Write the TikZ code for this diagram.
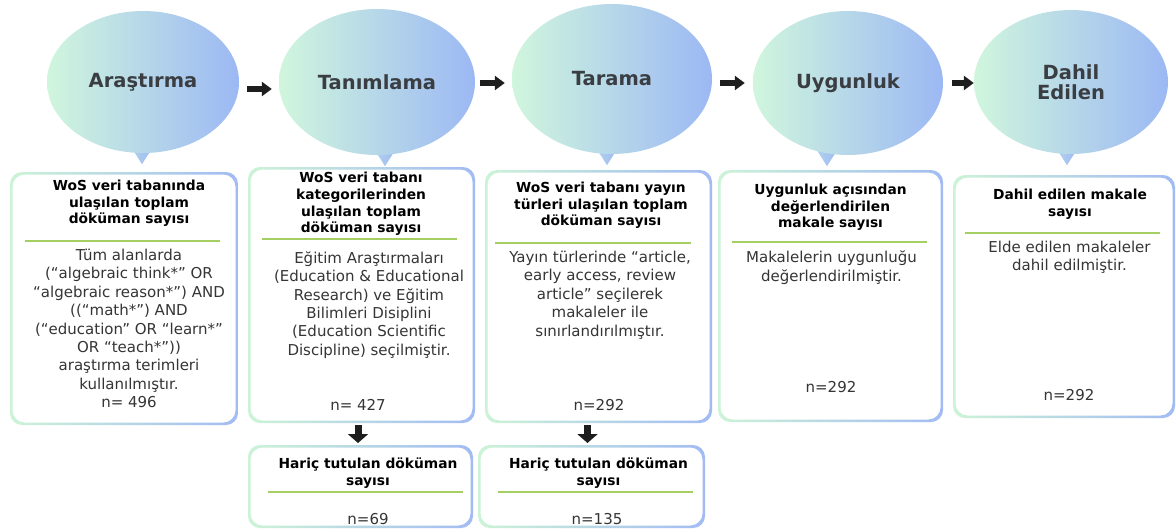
\documentclass[tikz,border=0pt]{standalone}
\usepackage{fontspec}
\setmainfont{DejaVu Sans}
\usepackage{tikz}
\usetikzlibrary{positioning,shapes.geometric,arrows.meta,backgrounds}

\definecolor{bubL}{HTML}{D0F6DD}
\definecolor{bubR}{HTML}{9CB8F4}
\definecolor{frmL}{HTML}{CDF3D7}
\definecolor{frmR}{HTML}{A2BBF3}
\definecolor{sepG}{HTML}{A6CF63}
\definecolor{ink}{HTML}{1E1E1E}
\definecolor{bubtxt}{HTML}{3A3E42}

% frame with a green-to-blue border
\newcommand\gradframe[1]{%
\shade[left color=frmL, right color=frmR, even odd rule, rounded corners=12pt]
  (#1.south west) rectangle (#1.north east)
  ([shift={(2.5pt,2.5pt)}]#1.south west) rectangle ([shift={(-2.5pt,-2.5pt)}]#1.north east);
}
% little tip under a bubble
\newcommand\pointer[2]{%
\shade[left color=bubL!45!bubR, right color=bubR]
  ([xshift={#2pt-12pt},yshift=8pt]#1.south) -- ([xshift={#2pt+12pt},yshift=8pt]#1.south)
  -- ([xshift={#2pt},yshift=-11pt]#1.south) -- cycle;
}

\begin{document}
\begin{tikzpicture}[x=1pt,y=-1pt,
  bubble/.style={ellipse, left color=bubL, right color=bubR, text=bubtxt, align=center,
    inner sep=0pt, font={\fontsize{19.5}{19.5}\selectfont\bfseries}},
  boxnode/.style={rectangle, inner sep=0pt, outer sep=0pt},
  ttl/.style={inner sep=0pt, align=center, text=black, font={\fontsize{13.8}{16.6}\selectfont\bfseries}},
  txt/.style={inner sep=0pt, align=center, text=ink!90, font={\fontsize{15}{18.4}\selectfont}},
  sepline/.style={sepG, line width=2pt},
  harrow/.style={-{Triangle[length=10pt,width=14pt]}, line width=6pt, ink},
  varrow/.style={-{Triangle[length=9pt,width=20pt]}, line width=7pt, ink}]

	\useasboundingbox (0,0) rectangle (1176,531);

	%% bubbles
	\node[bubble, minimum width=192, minimum height=142] (b1) at (143,82) {Araştırma};
	\node[bubble, minimum width=196, minimum height=146] (b2) at (377,82) {Tanımlama};
	\node[bubble, minimum width=200, minimum height=150] (b3) at (612,79) {Tarama};
	\node[bubble, minimum width=190, minimum height=144] (b4) at (848,83) {Uygunluk};
	\node[bubble, minimum width=194, minimum height=144] (b5) at (1071,82) {Dahil\\Edilen};

	\begin{scope}[on background layer]
	\fill[white] (0,0) rectangle (1176,531);
	\pointer{b1}{-1}
	\pointer{b2}{8}
	\pointer{b3}{-5}
	\pointer{b4}{-21}
	\pointer{b5}{-4}
	\end{scope}

	\coordinate (a1) at ([yshift=-7pt]b1.east);
	\coordinate (a2) at ([yshift=-1pt]b2.east);
	\coordinate (a3) at ([yshift=-4pt]b3.east);
	\coordinate (a4) at (b4.east);
	\draw[harrow, shorten <=8pt, shorten >=7pt] (a1) -- (a1 -| b2.west);
	\draw[harrow, shorten <=5pt, shorten >=7pt] (a2) -- (a2 -| b3.west);
	\draw[harrow, shorten <=8pt, shorten >=8pt] (a3) -- (a3 -| b4.west);
	\draw[harrow, shorten <=9pt] (a4) -- (a4 -| b5.west);

	%% boxes
	\node[boxnode, minimum width=228, minimum height=253] (k1) at (124,298.5) {};
	\node[boxnode, minimum width=227, minimum height=256] (k2) at (361.5,295) {};
	\node[boxnode, minimum width=227, minimum height=253] (k3) at (598.5,296.5) {};
	\node[boxnode, minimum width=225, minimum height=252] (k4) at (830.5,296) {};
	\node[boxnode, minimum width=222, minimum height=243] (k5) at (1064,296.5) {};
	\node[boxnode, minimum width=225, minimum height=83] (h1) at (360.5,486.5) {};
	\node[boxnode, minimum width=227, minimum height=83] (h2) at (591.5,486.5) {};
	\gradframe{k1}
	\gradframe{k2}
	\gradframe{k3}
	\gradframe{k4}
	\gradframe{k5}
	\gradframe{h1}
	\gradframe{h2}

	% box 1
	\node[ttl] (t1) at (129,203.5) {WoS veri tabanında\\ulaşılan toplam\\döküman sayısı};
	\draw[sepline] (25,241) -- (220,241);
	\node[txt] (p1) at (129,328.5) {Tüm alanlarda\\(“algebraic think*” OR\\“algebraic reason*”) AND\\((“math*”) AND\\(“education” OR “learn*”\\OR “teach*”))\\araştırma terimleri\\kullanılmıştır.\\n= 496};

	% box 2
	\node[ttl] (t2) at (361,204) {WoS veri tabanı\\kategorilerinden\\ulaşılan toplam\\döküman sayısı};
	\draw[sepline] (262,239) -- (457,239);
	\node[txt] (p2) at (369,305) {Eğitim Araştırmaları\\(Education \& Educational\\Research) ve Eğitim\\Bilimleri Disiplini\\(Education Scientific\\Discipline) seçilmiştir.};
	\node[txt] (n2) at (358,405) {n= 427};

	% box 3
	\node[ttl] (t3) at (601,205.5) {WoS veri tabanı yayın\\türleri ulaşılan toplam\\döküman sayısı};
	\draw[sepline] (495,243) -- (691,243);
	\node[txt] (p3) at (600,295) {Yayın türlerinde “article,\\early access, review\\article” seçilerek\\makaleler ile\\sınırlandırılmıştır.};
	\node[txt] (n3) at (599,405) {n=292};

	% box 4
	\node[ttl] (t4) at (830.5,207.5) {Uygunluk açısından\\değerlendirilen\\makale sayısı};
	\draw[sepline] (732,242) -- (927,242);
	\node[txt] (p4) at (831.5,267.5) {Makalelerin uygunluğu\\değerlendirilmiştir.};
	\node[txt] (n4) at (831,387) {n=292};

	% box 5
	\node[ttl] (t5) at (1070,204) {Dahil edilen makale\\sayısı};
	\draw[sepline] (965,233) -- (1160,233);
	\node[txt] (p5) at (1069.5,257.5) {Elde edilen makaleler\\dahil edilmiştir.};
	\node[txt] (n5) at (1069,395) {n=292};

	%% excluded
	\coordinate (d1) at ([xshift=-2.5pt]h1.north);
	\coordinate (d2) at ([xshift=-4pt]h2.north);
	\draw[varrow, shorten <=2pt, shorten >=2pt] (d1 |- k2.south) -- (d1);
	\draw[varrow, shorten <=2pt, shorten >=2pt] (d2 |- k3.south) -- (d2);

	\node[ttl] (t6) at (368,473) {Hariç tutulan döküman\\sayısı};
	\draw[sepline] (268,492) -- (463,492);
	\node[txt] (n6) at (368,519) {n=69};

	\node[ttl] (t7) at (598.5,473) {Hariç tutulan döküman\\sayısı};
	\draw[sepline] (498,492) -- (693,492);
	\node[txt] (n7) at (597,519) {n=135};

\end{tikzpicture}
\end{document}
